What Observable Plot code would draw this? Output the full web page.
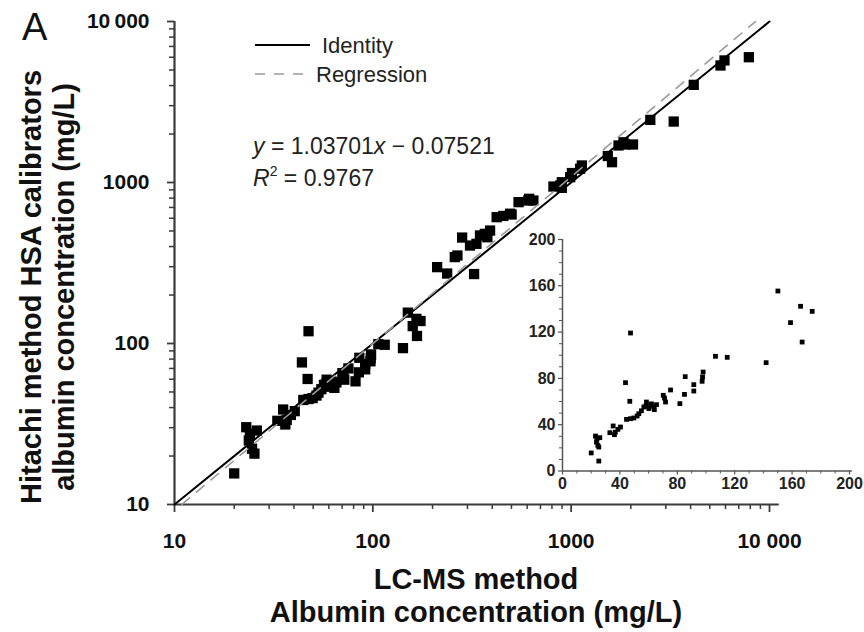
<!DOCTYPE html>
<html><head><meta charset="utf-8">
<script src="https://cdn.jsdelivr.net/npm/d3@7"></script>
<script src="https://cdn.jsdelivr.net/npm/@observablehq/plot@0.6"></script>
<style>
body{margin:0;background:#fff;}
#wrap{position:relative;width:864px;height:632px;overflow:hidden;background:#fff;}
#wrap svg{position:absolute;left:0;top:0;}
</style></head><body><div id="wrap"></div>
<script>
// ---- data ----
const lcms = [20.0,25.3,23.0,26.0,23.7,24.6,25.3,24.0,33.0,35.3,36.2,36.8,38.6,40.4,43.9,46.9,47.4,44.6,47.4,49.7,52.0,53.2,55.0,56.7,58.5,58.0,61.3,62.0,63.6,64.0,60.2,65.5,70.2,71.8,71.1,75.3,81.8,85.0,85.5,91.5,91.5,97.3,98.0,97.6,106.6,114.8,141.9,150.1,158.9,165.9,167.0,174.0,
  211,237,259,267,282,309,324,333,347,367,378,390,421,455,492,501,543,608,645,614,814,879,897,897,989,1009,1110,1132,1530,1607,1733,1836,1875,2050,2506,3289,4150,5662,5929,7870];
const hitachi = [15.6,8.6,30.2,28.8,25.0,22.2,20.7,27.5,33.1,38.9,31.4,33.5,36.0,38.0,76.3,60.2,119.2,44.6,45.2,45.8,47.5,49.5,52.0,55.3,59.6,56.0,56.7,58.0,55.3,53.0,53.9,57.3,65.4,59.6,63.0,70.0,58.2,66.2,81.5,74.6,69.1,77.5,85.5,81.2,99.1,98.2,93.6,155.5,128.2,142.3,111.4,137.9,
  298,272,344,352,455,406,270,416,469,480,457,503,609,620,640,633,755,773,773,792,944,958,926,1004,1079,1145,1217,1276,1460,1337,1698,1778,1722,1722,2449,2391,4042,5330,5730,6000];
const identityX = [10, 10000];
const regSlope = 1.03701, regIntercept = -0.07521;   // log-log fit shown on chart
const regX = [10.9, 8500];
const xTickValues = [10, 100, 1000, 10000];
const xTickLabels = ["10", "100", "1000", "10 000"];
const yTickValues = [10, 100, 1000, 10000];
const yTickLabels = ["10", "100", "1000", "10\u2009000"];
const insetTicks = [0, 40, 80, 120, 160, 200];
const insetTickLabels = ["0", "40", "80", "120", "160", "200"];
const xTitle = "LC-MS method\nAlbumin concentration (mg/L)";
const yTitle = "Hitachi method HSA calibrators\nalbumin concentration (mg/L)";
const legendLabels = ["Identity", "Regression"];

// ---- derived tables ----
const FONT = "'Liberation Sans', Arial, Helvetica, sans-serif";
const points = lcms.map((x, i) => ({x, y: hitachi[i]}));
const lowPoints = points.filter(d => d.x <= 200 && d.y <= 200);
const identity = identityX.map(x => ({x, y: x}));
const regression = regX.map(x => ({x, y: Math.pow(10, regSlope * Math.log10(x) + regIntercept)}));
const minorLog = [];
for (const dec of [10, 100, 1000]) for (let m = 2; m <= 9; m++) minorLog.push(m * dec);
const xLab = new Map(xTickValues.map((v, i) => [v, xTickLabels[i]]));
const yLab = new Map(yTickValues.map((v, i) => [v, yTickLabels[i]]));
const inLab = new Map(insetTicks.map((v, i) => [v, insetTickLabels[i]]));
const insetMinor = d3.range(0, 201, 10).filter(v => v % 40 !== 0);

const AX = "#3a3a3a";

const main = Plot.plot({
  width: 864, height: 632,
  marginLeft: 174, marginRight: 95, marginTop: 21, marginBottom: 128,
  x: {type: "log", domain: [10, 10000]},
  y: {type: "log", domain: [10, 10000]},
  style: {fontFamily: FONT, background: "transparent", overflow: "visible", color: "#111"},
  marks: [
    Plot.axisX(minorLog, {tickSize: 5, tickFormat: () => "", stroke: AX, strokeWidth: 1.5, label: null}),
    Plot.axisX(xTickValues, {tickSize: 8, tickPadding: 21, tickFormat: d => xLab.get(d), stroke: AX, strokeWidth: 1.8, fontSize: 21, fontWeight: "bold", label: null}),
    Plot.axisY(minorLog, {tickSize: 5, tickFormat: () => "", stroke: AX, strokeWidth: 1.5, label: null}),
    Plot.axisY(yTickValues, {tickSize: 7, tickPadding: 18, tickFormat: d => yLab.get(d), stroke: AX, strokeWidth: 1.8, fontSize: 21, fontWeight: "bold", label: null}),
    Plot.ruleY([10], {x1: 10, x2: 11200, stroke: AX, strokeWidth: 2.2}),
    Plot.ruleX([10], {y1: 10, y2: 10000, stroke: AX, strokeWidth: 2.2}),
    Plot.dot(points, {x: "x", y: "y", symbol: "square", r: 5.8, fill: "#000", stroke: "none", clip: true}),
    Plot.line(identity, {x: "x", y: "y", stroke: "#000", strokeWidth: 2}),
    Plot.line(regression, {x: "x", y: "y", stroke: "#9a9a9a", strokeWidth: 1.6, strokeDasharray: "10,9"}),
    Plot.text([xTitle], {frameAnchor: "bottom", dx: 4, dy: 61, lineAnchor: "top", lineHeight: 1.13, fontSize: 29, fontWeight: "bold", fill: "#111"}),
    Plot.text([yTitle], {frameAnchor: "left", textAnchor: "middle", rotate: -90, dx: -157, dy: 24, lineAnchor: "top", lineHeight: 1.13, fontSize: 29, fontWeight: "bold", fill: "#111"})
  ]
});

const inset = Plot.plot({
  width: 364, height: 275,
  marginLeft: 62, marginRight: 15, marginTop: 14, marginBottom: 29.5,
  x: {domain: [0, 200]},
  y: {domain: [0, 200]},
  style: {fontFamily: FONT, background: "transparent", overflow: "visible", color: "#222"},
  marks: [
    Plot.axisX(insetMinor, {tickSize: 3, tickFormat: () => "", stroke: "#555", strokeWidth: 1, label: null}),
    Plot.axisX(insetTicks, {tickSize: 4, tickPadding: 3, tickFormat: d => inLab.get(d), stroke: "#555", strokeWidth: 1.2, fontSize: 16, fontWeight: "bold", label: null}),
    Plot.axisY(insetMinor, {tickSize: 3, tickFormat: () => "", stroke: "#555", strokeWidth: 1, label: null}),
    Plot.axisY(insetTicks, {tickSize: 4, tickPadding: 3, tickFormat: d => inLab.get(d), stroke: "#555", strokeWidth: 1.2, fontSize: 16, fontWeight: "bold", label: null}),
    Plot.ruleY([0], {x1: 0, x2: 202, stroke: "#555", strokeWidth: 1.5}),
    Plot.ruleX([0], {y1: 0, y2: 200, stroke: "#555", strokeWidth: 1.5}),
    Plot.dot(lowPoints, {x: "x", y: "y", symbol: "square", r: 2.7, fill: "#000", stroke: "none"})
  ]
});
inset.style.left = "500px";
inset.style.top = "225px";

// ---- annotations: panel letter, legend, fit equation ----
const ov = d3.create("svg").attr("width", 864).attr("height", 632)
  .attr("font-family", FONT).style("pointer-events", "none");
ov.append("text").attr("x", 22).attr("y", 40).attr("font-size", 38).attr("fill", "#111").text("A");
ov.append("line").attr("x1", 255).attr("x2", 310).attr("y1", 45).attr("y2", 45).attr("stroke", "#000").attr("stroke-width", 2);
ov.append("text").attr("x", 322).attr("y", 53).attr("font-size", 22).attr("fill", "#222").text(legendLabels[0]);
ov.append("line").attr("x1", 255).attr("x2", 312).attr("y1", 74).attr("y2", 74).attr("stroke", "#9a9a9a").attr("stroke-width", 1.6).attr("stroke-dasharray", "10,9");
ov.append("text").attr("x", 316).attr("y", 82).attr("font-size", 22).attr("fill", "#222").text(legendLabels[1]);
const eq = ov.append("text").attr("x", 253).attr("y", 154).attr("font-size", 23).attr("fill", "#222");
eq.append("tspan").attr("font-style", "italic").text("y");
eq.append("tspan").text(" = 1.03701");
eq.append("tspan").attr("font-style", "italic").text("x");
eq.append("tspan").text(" \u2212 0.07521");
const r2 = ov.append("text").attr("x", 253).attr("y", 186).attr("font-size", 23).attr("fill", "#222");
r2.append("tspan").attr("font-style", "italic").text("R");
r2.append("tspan").attr("font-size", 14).attr("dy", -10).text("2");
r2.append("tspan").attr("dy", 10).text(" = 0.9767");

const wrap = document.getElementById("wrap");
wrap.appendChild(main);
wrap.appendChild(inset);
wrap.appendChild(ov.node());
</script>
</body></html>
